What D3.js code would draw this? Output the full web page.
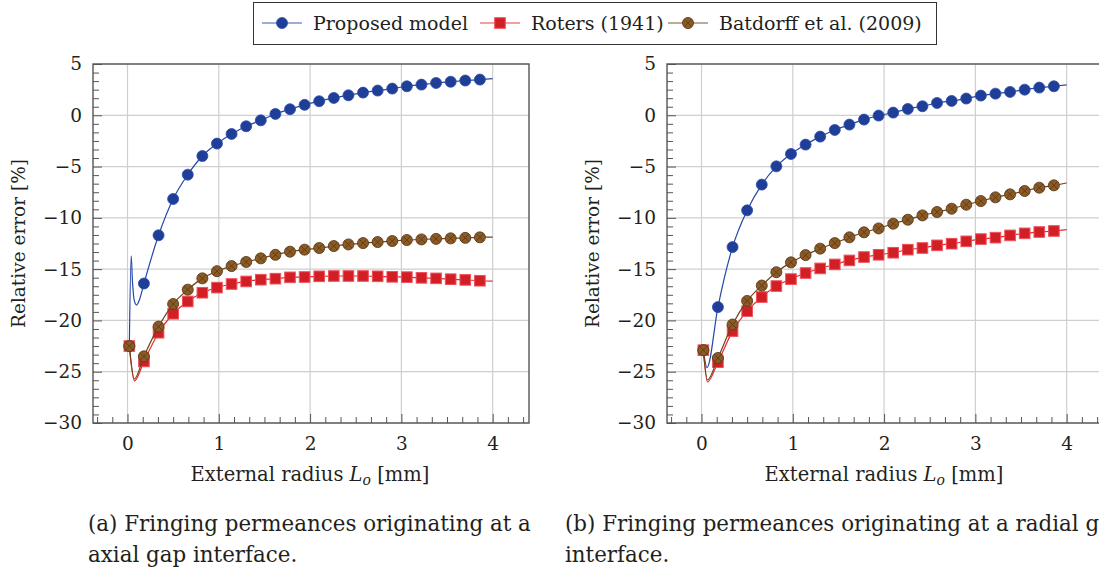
<!DOCTYPE html>
<html>
<head>
<meta charset="utf-8">
<script src="https://cdn.jsdelivr.net/npm/d3@7/dist/d3.min.js"></script>
<style>
    body { margin: 0; background: #fff; }
    text { font-family: "DejaVu Serif", serif; fill: #231f20; }
</style>
</head>
<body>
<svg id="chart" width="1099" height="572"></svg>
<script>
// marker positions along L_o [mm] (every 4th sample), lines run on to endX
var markX = [0.02, 0.18, 0.34, 0.50, 0.66, 0.82, 0.98, 1.14, 1.30, 1.46, 1.62, 1.78, 1.94,
    2.10, 2.26, 2.42, 2.58, 2.74, 2.90, 3.06, 3.22, 3.38, 3.54, 3.70, 3.86];
var endX = 4.0;

var xTicks = [0, 1, 2, 3, 4];
var yTicks = [-30, -25, -20, -15, -10, -5, 0, 5];
var xDomain = [-0.378, 4.398];
var yDomain = [-30, 5];

var seriesNames = ["Proposed model", "Roters (1941)", "Batdorff et al. (2009)"];

// (a) axial gap interface
var axialProposed = [-22.5, -16.4, -11.7, -8.16, -5.79, -3.97, -2.76, -1.82, -1.07, -0.49, 0.13, 0.59, 1.02,
    1.37, 1.69, 1.95, 2.21, 2.41, 2.60, 2.83, 2.99, 3.15, 3.27, 3.39, 3.48];
var axialProposedEnd = 3.58;
var axialProposedNear = [[0.04, -13.7], [0.055, -16.3], [0.075, -18.1], [0.10, -18.5], [0.13, -18.0]];

var axialRoters = [-22.5, -24.0, -21.2, -19.35, -18.15, -17.3, -16.8, -16.45, -16.2, -16.03, -15.93, -15.8, -15.77,
    -15.7, -15.67, -15.67, -15.67, -15.7, -15.75, -15.78, -15.85, -15.9, -15.98, -16.05, -16.13];
var axialRotersEnd = -16.16;
var axialRotersNear = [[0.075, -25.9]];

var axialBatdorff = [-22.5, -23.5, -20.6, -18.4, -17.0, -15.9, -15.2, -14.7, -14.3, -13.95, -13.6, -13.3, -13.1,
    -12.94, -12.75, -12.59, -12.46, -12.36, -12.26, -12.16, -12.10, -12.05, -12.0, -11.95, -11.9];
var axialBatdorffEnd = -11.87;
var axialBatdorffNear = [[0.075, -25.7]];

// (b) radial gap interface
var radialProposed = [-22.9, -18.7, -12.85, -9.27, -6.76, -4.98, -3.77, -2.86, -2.08, -1.43, -0.91, -0.42, -0.03,
    0.26, 0.62, 0.88, 1.20, 1.40, 1.63, 1.92, 2.11, 2.28, 2.50, 2.70, 2.83];
var radialProposedEnd = 2.96;
var radialProposedNear = [[0.06, -24.6]];

var radialRoters = [-22.9, -24.07, -21.04, -19.09, -17.72, -16.65, -15.97, -15.38, -14.93, -14.54, -14.15, -13.82, -13.6,
    -13.4, -13.1, -12.94, -12.68, -12.52, -12.29, -12.07, -11.93, -11.71, -11.51, -11.38, -11.28];
var radialRotersEnd = -11.15;
var radialRotersNear = [[0.065, -26.0]];

var radialBatdorff = [-22.9, -23.66, -20.4, -18.1, -16.6, -15.3, -14.34, -13.63, -13.0, -12.46, -11.9, -11.41, -11.03,
    -10.57, -10.18, -9.76, -9.43, -9.11, -8.72, -8.36, -8.0, -7.71, -7.38, -7.06, -6.83];
var radialBatdorffEnd = -6.6;
var radialBatdorffNear = [[0.065, -25.8]];

var styles = [
    { line: "#2548a8", fill: "#1f3e98", stroke: "#2b4ca8", mark: "circle" },
    { line: "#ec2530", fill: "#d21f26", stroke: "#f0505a", mark: "square" },
    { line: "#6e4518", fill: "#8c5a24", stroke: "#5b3a17", mark: "otimes" }
];

var svg = d3.select("#chart");

function buildLine(vals, endVal, near) {
    var pts = markX.map(function(x, i) { return [x, vals[i]]; });
    pts = pts.concat(near);
    pts.push([endX, endVal]);
    pts.sort(function(a, b) { return a[0] - b[0]; });
    return pts;
}

function drawMarker(g, style, cx, cy) {
    if (style.mark == "circle") {
        g.append("circle").attr("cx", cx).attr("cy", cy).attr("r", 5.5)
            .attr("fill", style.fill).attr("stroke", style.stroke).attr("stroke-width", 0.8);
    } else if (style.mark == "square") {
        g.append("rect").attr("x", cx - 5.3).attr("y", cy - 5.3).attr("width", 10.6).attr("height", 10.6)
            .attr("fill", style.fill).attr("stroke", style.stroke).attr("stroke-width", 1);
    } else {
        var r = 5.5, d = r * 0.68;
        g.append("circle").attr("cx", cx).attr("cy", cy).attr("r", r)
            .attr("fill", style.fill).attr("stroke", style.stroke).attr("stroke-width", 0.9);
        g.append("path")
            .attr("d", "M" + (cx - d) + "," + (cy - d) + "L" + (cx + d) + "," + (cy + d) +
                "M" + (cx - d) + "," + (cy + d) + "L" + (cx + d) + "," + (cy - d))
            .attr("stroke", style.stroke).attr("stroke-width", 0.9);
    }
}

function drawPanel(left, captionX, series, caption) {
    var x = d3.scaleLinear().domain(xDomain).range([left, left + 436]);
    var y = d3.scaleLinear().domain(yDomain).range([423, 64]);
    var g = svg.append("g");
    var clipId = "clip" + left;

    g.append("clipPath").attr("id", clipId).append("rect")
        .attr("x", x.range()[0]).attr("y", 64).attr("width", 436).attr("height", 359);

    // grid
    g.append("g").selectAll("line").data(xTicks).join("line")
        .attr("x1", function(d) { return x(d); }).attr("x2", function(d) { return x(d); })
        .attr("y1", 64).attr("y2", 423)
        .attr("stroke", "#cfcfcf").attr("stroke-width", 1.2);
    g.append("g").selectAll("line").data(yTicks).join("line")
        .attr("y1", function(d) { return y(d); }).attr("y2", function(d) { return y(d); })
        .attr("x1", x.range()[0]).attr("x2", x.range()[1])
        .attr("stroke", "#cfcfcf").attr("stroke-width", 1.2);

    // minor ticks
    var xMinor = d3.range(-3, 28).map(function(k) { return k / 6; })
        .filter(function(v) { return v > xDomain[0] && v < xDomain[1] && Math.abs(v - Math.round(v)) > 1e-6; });
    var yMinor = d3.range(-36, 7).map(function(k) { return k * 5 / 6; })
        .filter(function(v) { return v > -30 && v < 5 && Math.abs(v / 5 - Math.round(v / 5)) > 1e-6; });

    var xAxis = g.append("g").attr("transform", "translate(0,423)")
        .call(d3.axisBottom(x).tickValues(xTicks).tickSize(-9).tickPadding(14)
            .tickFormat(function(d) { return d3.format("d")(d); }));
    var xMinorAxis = g.append("g").attr("transform", "translate(0,423)")
        .call(d3.axisBottom(x).tickValues(xMinor).tickSize(-6).tickFormat(""));
    var yAxis = g.append("g").attr("transform", "translate(" + x.range()[0] + ",0)")
        .call(d3.axisLeft(y).tickValues(yTicks).tickSize(-9).tickPadding(11)
            .tickFormat(function(d) { return d < 0 ? "\u2212" + Math.abs(d) : d; }));
    var yMinorAxis = g.append("g").attr("transform", "translate(" + x.range()[0] + ",0)")
        .call(d3.axisLeft(y).tickValues(yMinor).tickSize(-6).tickFormat(""));

    [xAxis, xMinorAxis, yAxis, yMinorAxis].forEach(function(a) {
        a.select(".domain").remove();
        a.selectAll(".tick line").attr("stroke", "#555").attr("stroke-width", 1);
        a.selectAll(".tick text").attr("font-family", "DejaVu Serif").attr("font-size", 18.5).attr("fill", "#231f20");
    });

    // series: lines then markers, later series on top
    var line = d3.line().x(function(d) { return x(d[0]); }).y(function(d) { return y(d[1]); })
        .curve(d3.curveMonotoneX);

    series.forEach(function(s, k) {
        var sg = g.append("g").attr("clip-path", "url(#" + clipId + ")");
        sg.append("path").datum(buildLine(s.vals, s.end, s.near))
            .attr("d", line).attr("fill", "none")
            .attr("stroke", styles[k].line).attr("stroke-width", 1.2);
        s.vals.forEach(function(v, i) {
            drawMarker(sg, styles[k], x(markX[i]), y(v));
        });
    });

    // axis box
    g.append("rect").attr("x", x.range()[0]).attr("y", 64).attr("width", 436).attr("height", 359)
        .attr("fill", "none").attr("stroke", "#555").attr("stroke-width", 1.4);

    // axis titles
    g.append("text")
        .attr("transform", "translate(" + (x.range()[0] - 68) + "," + 243.5 + ") rotate(-90)")
        .attr("text-anchor", "middle").attr("font-size", 18.5)
        .text("Relative error [%]");

    var xl = g.append("text").attr("x", (x.range()[0] + x.range()[1]) / 2 - 1).attr("y", 481)
        .attr("text-anchor", "middle").attr("font-size", 19.5);
    xl.append("tspan").text("External radius ");
    xl.append("tspan").attr("font-style", "italic").text("L");
    xl.append("tspan").attr("font-style", "italic").attr("font-size", 14).attr("dy", 4).text("o");
    xl.append("tspan").attr("dy", -4).text(" [mm]");

    // caption
    caption.forEach(function(c, i) {
        g.append("text").attr("x", captionX).attr("y", 531 + i * 31)
            .attr("font-size", 21.4).text(c);
    });
}

drawPanel(93, 88, [
    { vals: axialProposed, end: axialProposedEnd, near: axialProposedNear },
    { vals: axialRoters, end: axialRotersEnd, near: axialRotersNear },
    { vals: axialBatdorff, end: axialBatdorffEnd, near: axialBatdorffNear }
], ["(a) Fringing permeances originating at a", "axial gap interface."]);

drawPanel(667, 565, [
    { vals: radialProposed, end: radialProposedEnd, near: radialProposedNear },
    { vals: radialRoters, end: radialRotersEnd, near: radialRotersNear },
    { vals: radialBatdorff, end: radialBatdorffEnd, near: radialBatdorffNear }
], ["(b) Fringing permeances originating at a radial gap", "interface."]);

// legend
var lg = svg.append("g");
lg.append("rect").attr("x", 253.5).attr("y", 2.5).attr("width", 683).attr("height", 42)
    .attr("fill", "#fff").attr("stroke", "#333").attr("stroke-width", 1);
var legendX = [262, 480, 668];
seriesNames.forEach(function(name, k) {
    var lx = legendX[k];
    lg.append("line").attr("x1", lx).attr("x2", lx + 40).attr("y1", 23).attr("y2", 23)
        .attr("stroke", styles[k].line).attr("stroke-opacity", 0.6).attr("stroke-width", 1.6);
    drawMarker(lg, styles[k], lx + 20, 23);
    lg.append("text").attr("x", lx + 51).attr("y", 29.5).attr("font-size", 19).text(name);
});
</script>
</body>
</html>
